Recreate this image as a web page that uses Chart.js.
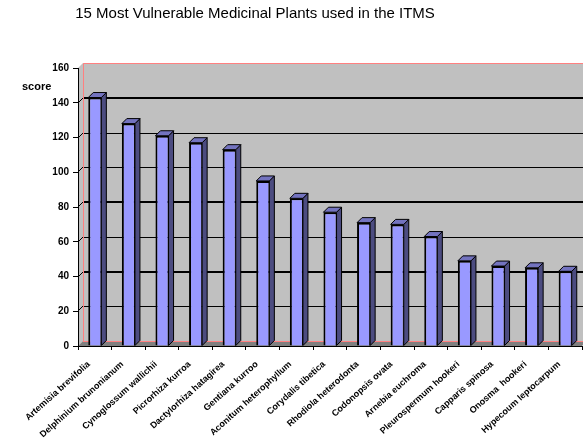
<!DOCTYPE html>
<html>
<head>
<meta charset="utf-8">
<script src="https://cdn.jsdelivr.net/npm/chart.js@4/dist/chart.umd.min.js"></script>
<style>
  html, body { margin: 0; padding: 0; background: #ffffff; }
  #wrap { width: 583px; height: 444px; position: relative; }
</style>
</head>
<body>
<div id="wrap"><canvas id="c" width="583" height="444"></canvas></div>
<script>
const chartTitle = "15 Most Vulnerable Medicinal Plants used in the ITMS";
const yAxisTitle = "score";
const categories = [
  "Artemisia brevifolia",
  "Delphinium brunonianum",
  "Cynoglossum wallichii",
  "Picrorhiza kurroa",
  "Dactylorhiza hatagirea",
  "Gentiana kurroo",
  "Aconitum heterophyllum",
  "Corydalis tibetica",
  "Rhodiola heterodonta",
  "Codonopsis ovata",
  "Arnebia euchroma",
  "Pleurospermum hookeri",
  "Capparis spinosa",
  "Onosma  hookeri",
  "Hypecoum leptocarpum"
];
const scores = [143, 128, 121, 117, 113, 95, 85, 77, 71, 70, 63, 49, 46, 45, 43];
const yTickValues = [0, 20, 40, 60, 80, 100, 120, 140, 160];
const thickGridValues = [40, 80, 140];

const DX = 5, DY = 5;

const wallPlugin = {
  id: 'wall3d',
  beforeDraw(chart) {
    const ctx = chart.ctx;
    const xs = chart.scales.x, ys = chart.scales.y;
    const L = xs.left, R = xs.right;
    const T = ys.getPixelForValue(160), B = ys.getPixelForValue(0);
    ctx.save();
    ctx.fillStyle = '#c0c0c0';
    ctx.fillRect(L + DX, T - DY, chart.width - (L + DX), B - T);
    ctx.beginPath();
    ctx.moveTo(L, B); ctx.lineTo(L, T); ctx.lineTo(L + DX, T - DY); ctx.lineTo(L + DX, B - DY); ctx.closePath();
    ctx.fill();
    ctx.fillStyle = '#808080';
    ctx.beginPath();
    ctx.moveTo(L, B); ctx.lineTo(R, B); ctx.lineTo(R + DX, B - DY); ctx.lineTo(L + DX, B - DY); ctx.closePath();
    ctx.fill();
    ctx.strokeStyle = '#000000';
    yTickValues.forEach(v => {
      if (v === 0 || v === 160) return;
      const y = Math.round(ys.getPixelForValue(v));
      const thick = thickGridValues.includes(v);
      ctx.lineWidth = thick ? 2 : 1;
      const off = thick ? 0 : 0.5;
      ctx.beginPath();
      ctx.moveTo(L + DX, y - DY + off); ctx.lineTo(chart.width, y - DY + off);
      ctx.stroke();
      ctx.lineWidth = 1;
      ctx.beginPath();
      ctx.moveTo(L, y); ctx.lineTo(L + DX, y - DY);
      ctx.stroke();
    });
    ctx.strokeStyle = '#ff8080';
    ctx.lineWidth = 1;
    ctx.beginPath();
    ctx.moveTo(L + DX + 0.5, B - DY); ctx.lineTo(L + DX + 0.5, T - DY + 0.5); ctx.lineTo(chart.width, T - DY + 0.5);
    ctx.moveTo(L + DX, B - DY + 0.5); ctx.lineTo(chart.width, B - DY + 0.5);
    ctx.stroke();
    ctx.fillStyle = '#000000';
    ctx.font = '15px "Liberation Sans", Arial, sans-serif';
    ctx.textAlign = 'center';
    ctx.textBaseline = 'middle';
    ctx.fillText(chartTitle, 255, 14);
    ctx.font = 'bold 11px "Liberation Sans", Arial, sans-serif';
    ctx.textAlign = 'left';
    ctx.fillText(yAxisTitle, 22, 87);
    ctx.restore();
  },
  beforeDatasetsDraw(chart) {
    const ctx = chart.ctx;
    const meta = chart.getDatasetMeta(0);
    ctx.save();
    ctx.strokeStyle = '#000000';
    ctx.lineWidth = 1;
    meta.data.forEach(el => {
      const p = el.getProps(['x', 'y', 'base', 'width'], true);
      const l = p.x - p.width / 2, r = p.x + p.width / 2;
      ctx.fillStyle = '#4c4c80';
      ctx.beginPath();
      ctx.moveTo(r, p.y); ctx.lineTo(r + DX, p.y - DY); ctx.lineTo(r + DX, p.base - DY); ctx.lineTo(r, p.base); ctx.closePath();
      ctx.fill(); ctx.stroke();
      ctx.fillStyle = '#7373bf';
      ctx.beginPath();
      ctx.moveTo(l, p.y); ctx.lineTo(l + DX, p.y - DY); ctx.lineTo(r + DX, p.y - DY); ctx.lineTo(r, p.y); ctx.closePath();
      ctx.fill(); ctx.stroke();
    });
    ctx.restore();
  }
};

new Chart(document.getElementById('c'), {
  type: 'bar',
  data: {
    labels: categories,
    datasets: [{
      data: scores,
      backgroundColor: '#9999ff',
      borderColor: '#000000',
      borderWidth: { top: 2, left: 2, right: 1, bottom: 0 },
      categoryPercentage: 1.0,
      barPercentage: 0.39
    }]
  },
  options: {
    responsive: false,
    animation: false,
    devicePixelRatio: 1,
    layout: { padding: { top: 68, right: 1, bottom: 0, left: 0 } },
    plugins: {
      legend: { display: false },
      title: { display: false },
      tooltip: { enabled: false }
    },
    scales: {
      x: {
        offset: true,
        grid: { display: true, drawOnChartArea: false, drawTicks: true, tickLength: 4, color: '#000000', offset: true },
        border: { display: true, color: '#000000', width: 1 },
        ticks: {
          autoSkip: false,
          minRotation: 42,
          maxRotation: 42,
          padding: 9,
          labelOffset: -6,
          color: '#000000',
          font: { family: '"Liberation Sans", Arial, sans-serif', size: 9, weight: 'bold' }
        },
        afterFit(scale) { scale.height = 98; }
      },
      y: {
        min: 0,
        max: 160,
        afterBuildTicks(scale) { scale.ticks = yTickValues.map(v => ({ value: v })); },
        grid: { display: true, drawOnChartArea: false, drawTicks: true, tickLength: 5, color: '#000000' },
        border: { display: true, color: '#000000', width: 1 },
        ticks: {
          padding: 4,
          color: '#000000',
          font: { family: '"Liberation Sans", Arial, sans-serif', size: 10, weight: 'bold' }
        },
        afterFit(scale) { scale.width = 78; }
      }
    }
  },
  plugins: [wallPlugin]
});
</script>
</body>
</html>
